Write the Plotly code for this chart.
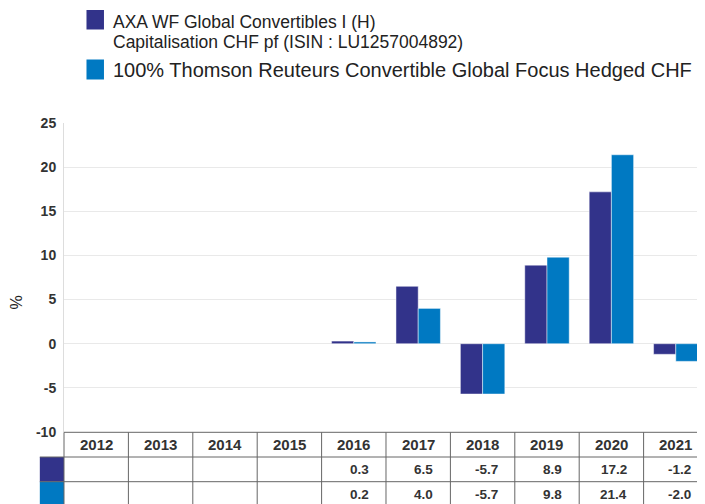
import plotly.graph_objects as go

years = ["2012", "2013", "2014", "2015", "2016", "2017", "2018", "2019", "2020", "2021"]
fund = [None, None, None, None, 0.3, 6.5, -5.7, 8.9, 17.2, -1.2]
bench = [None, None, None, None, 0.2, 4.0, -5.7, 9.8, 21.4, -2.0]
fund_name_1 = "AXA WF Global Convertibles I (H)"
fund_name_2 = "Capitalisation CHF pf (ISIN : LU1257004892)"
bench_name = "100% Thomson Reuteurs Convertible Global Focus Hedged CHF"
y_ticks = [-10, -5, 0, 5, 10, 15, 20, 25]

C_FUND = "#32338a"
C_BENCH = "#0079c2"
TXT = "#333333"
GRID = "#e9e9e9"
LINE = "#666666"

OFF = 8  # page body margin
PW, PH = 705, 504
W, H = PW - OFF, PH - OFF
# plot area in page pixels
PL, PT, PB = 63.5, 123, 432
L = PL - OFF
T = PT - OFF
B = PH - PB
R = 0
cw = 64.45  # pixel width of a category column
xr0 = -0.5
xr1 = -0.5 + (PW - PL) / cw
plot_h = PB - PT
plot_w = PW - PL


def px(v):
    return (v - xr0) / (xr1 - xr0)


def ppx(pix):
    return (pix - PL) / plot_w


def py(pix):
    return (PB - pix) / plot_h


fig = go.Figure()
fig.add_trace(go.Bar(x=list(range(len(years))), y=fund, marker=dict(color=C_FUND, line=dict(color="rgba(255,255,255,0.6)", width=0.8)), showlegend=False))
fig.add_trace(go.Bar(x=list(range(len(years))), y=bench, marker=dict(color=C_BENCH, line=dict(color="rgba(255,255,255,0.6)", width=0.8)), showlegend=False))

shapes = []
ann = []

# legend
shapes.append(dict(type="rect", xref="paper", yref="paper", x0=ppx(86), x1=ppx(103.5), y0=py(29.5), y1=py(10), fillcolor=C_FUND, line=dict(width=0)))
shapes.append(dict(type="rect", xref="paper", yref="paper", x0=ppx(86), x1=ppx(103.5), y0=py(79.5), y1=py(59.5), fillcolor=C_BENCH, line=dict(width=0)))
f12 = dict(family="Liberation Sans", size=17.5, color="#222222")
ann.append(dict(xref="paper", yref="paper", x=ppx(111), y=py(22.5), xanchor="left", yanchor="middle", text=fund_name_1, showarrow=False, font=f12))
ann.append(dict(xref="paper", yref="paper", x=ppx(111), y=py(42), xanchor="left", yanchor="middle", text=fund_name_2, showarrow=False, font=f12))
ann.append(dict(xref="paper", yref="paper", x=ppx(111), y=py(70), xanchor="left", yanchor="middle", text=bench_name, showarrow=False,
                font=dict(family="Liberation Sans", size=20, color="#222222")))

# y axis title
ann.append(dict(xref="paper", yref="paper", x=ppx(15), y=py(303), xanchor="center", yanchor="middle", text="%", textangle=-90, showarrow=False,
                font=dict(family="Liberation Sans", size=16, color="#222222")))

# table
row_h = 24.7
top = PB + 0.3
sw_left = ppx(39.3)
shapes.append(dict(type="line", xref="paper", yref="paper", x0=px(-0.5), x1=1.01, y0=py(top), y1=py(top), line=dict(color=LINE, width=1)))
for r in (1, 2):
    yy = py(top + r * row_h)
    shapes.append(dict(type="line", xref="paper", yref="paper", x0=sw_left, x1=1.01, y0=yy, y1=yy, line=dict(color=LINE, width=1)))
for k in range(len(years)):
    xx = px(k - 0.5)
    shapes.append(dict(type="line", xref="paper", yref="paper", x0=xx, x1=xx, y0=py(top), y1=py(PH + 5), line=dict(color=LINE, width=1)))
shapes.append(dict(type="rect", xref="paper", yref="paper", x0=sw_left, x1=px(-0.5), y0=py(top + 2 * row_h), y1=py(top + row_h), fillcolor=C_FUND, line=dict(width=0), layer="below"))
shapes.append(dict(type="rect", xref="paper", yref="paper", x0=sw_left, x1=px(-0.5), y0=py(top + 3 * row_h), y1=py(top + 2 * row_h), fillcolor=C_BENCH, line=dict(width=0), layer="below"))

hdr_font = dict(family="Liberation Sans", size=15, color=TXT)
val_font = dict(family="Liberation Sans", size=13.5, color=TXT)
for i, yv in enumerate(years):
    ann.append(dict(xref="paper", yref="paper", x=px(i), y=py(top + row_h / 2), xanchor="center", yanchor="middle", text="<b>%s</b>" % yv, showarrow=False, font=hdr_font))
    for r, series in ((1, fund), (2, bench)):
        v = series[i]
        if v is None:
            continue
        ann.append(dict(xref="paper", yref="paper", x=px(i + 0.5), xshift=-15, y=py(top + r * row_h + row_h / 2), xanchor="right", yanchor="middle",
                        text="<b>%.1f</b>" % v, showarrow=False, font=val_font))

fig.update_layout(
    width=W, height=H,
    margin=dict(l=L, r=R, t=T, b=B, pad=0),
    paper_bgcolor="white", plot_bgcolor="white",
    barmode="group", bargap=0.31, bargroupgap=0.0,
    shapes=shapes, annotations=ann,
    xaxis=dict(range=[xr0, xr1], showticklabels=False, showgrid=False, zeroline=False, showline=False, ticks=""),
    yaxis=dict(range=[-10, 25], tickvals=y_ticks, ticktext=["<b>%d</b>" % t for t in y_ticks], showgrid=True, gridcolor=GRID, gridwidth=1,
               zeroline=False, showline=True, linecolor="#dddddd", linewidth=1, ticks="", ticklabelstandoff=4,
               tickfont=dict(family="Liberation Sans", size=14, color=TXT)),
)

fig.write_html("out.html")
